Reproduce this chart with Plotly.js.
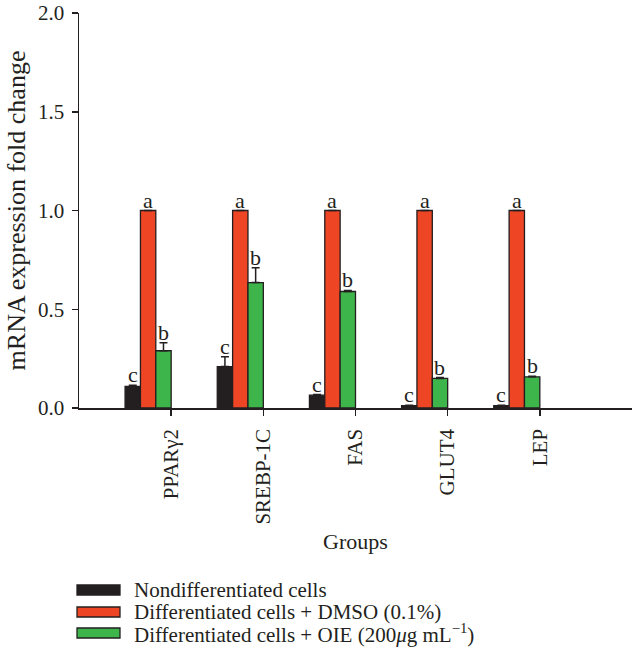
<!DOCTYPE html>
<html>
<head>
<meta charset="utf-8">
<script src="https://cdn.plot.ly/plotly-3.0.1.min.js"></script>
<style>html,body{margin:0;padding:0;background:#fff;}#chart{width:632px;height:664px;}</style>
</head>
<body>
<div id="chart"></div>
<script>
// ---- data ----
const categories = ['PPARγ2', 'SREBP-1C', 'FAS', 'GLUT4', 'LEP'];
const seriesNames = [
  'Nondifferentiated cells',
  'Differentiated cells + DMSO (0.1%)',
  'Differentiated cells + OIE (200<i>μ</i>g mL<sup>−1</sup>)'
];
const nondiff = [0.11, 0.21, 0.065, 0.012, 0.012];
const nondiffErr = [0.005, 0.05, 0.003, 0.002, 0.002];
const dmso = [1.0, 1.0, 1.0, 1.0, 1.0];
const dmsoErr = [0, 0, 0, 0, 0];
const oie = [0.29, 0.635, 0.59, 0.15, 0.158];
const oieErr = [0.04, 0.075, 0.005, 0.004, 0.003];
const nondiffLetters = ['c', 'c', 'c', 'c', 'c'];
const dmsoLetters = ['a', 'a', 'a', 'a', 'a'];
const oieLetters = ['b', 'b', 'b', 'b', 'b'];
const yTicks = [0, 0.5, 1.0, 1.5, 2.0];

// ---- styles ----
const FONT = 'Liberation Serif, Times New Roman, serif';
const INK = '#231f20';
const colors = ['#231f20', '#ee4524', '#3db54a'];
const barW = 1 / 6;
const offsets = [-0.5, -1 / 3, -1 / 6];

const series = [
  {y: nondiff, e: nondiffErr, l: nondiffLetters},
  {y: dmso, e: dmsoErr, l: dmsoLetters},
  {y: oie, e: oieErr, l: oieLetters}
];

const traces = series.map((s, k) => ({
  type: 'bar',
  name: seriesNames[k],
  x: categories,
  y: s.y,
  width: barW,
  offset: offsets[k],
  marker: {color: colors[k], line: {color: INK, width: 1.3}},
  error_y: {
    type: 'data', symmetric: false, array: s.e,
    arrayminus: s.e.map(() => 0),
    visible: true, color: INK, thickness: 1.5, width: 4
  },
  showlegend: false,
  hoverinfo: 'x+y'
}));

const annotations = [];
series.forEach((s, k) => {
  s.y.forEach((v, i) => {
    annotations.push({
      x: i + offsets[k] + barW / 2, xref: 'x',
      y: v + s.e[i], yref: 'y',
      text: s.l[i], showarrow: false,
      yanchor: 'bottom', xanchor: 'center', yshift: -4,
      font: {family: FONT, size: 22, color: INK}
    });
  });
});

// ---- legend (drawn manually to match swatch shape) ----
const L = 79, R = 0, T = 13, B = 256, W = 632, H = 664;
const pw = W - L - R, ph = H - T - B;
const px2x = p => (p - L) / pw;
const px2y = p => (H - B - p) / ph;
const legendRows = [590, 612, 633];
const shapes = [];
seriesNames.forEach((n, k) => {
  const cy = legendRows[k];
  shapes.push({
    type: 'rect', xref: 'paper', yref: 'paper',
    x0: px2x(77), x1: px2x(120), y0: px2y(cy - 5), y1: px2y(cy + 5),
    fillcolor: colors[k], line: {color: INK, width: 1.3}
  });
  annotations.push({
    xref: 'paper', yref: 'paper', x: px2x(133), y: px2y(cy),
    xanchor: 'left', yanchor: 'middle', showarrow: false, borderpad: 0,
    text: n, font: {family: FONT, size: 21, color: INK}
  });
});

const layout = {
  width: W, height: H,
  margin: {l: L, r: R, t: T, b: B, pad: 0},
  paper_bgcolor: '#fff', plot_bgcolor: '#fff',
  font: {family: FONT, size: 22, color: INK},
  barmode: 'overlay',
  showlegend: false,
  xaxis: {
    type: 'category', range: [-1, 5],
    showline: true, linecolor: INK, linewidth: 1.5,
    ticks: 'outside', ticklen: 6, tickwidth: 1.5, tickcolor: INK,
    tickangle: -90, showgrid: false, zeroline: false,
    ticklabelstandoff: 5,
    tickfont: {family: FONT, size: 21, color: INK},
    title: {text: 'Groups', font: {family: FONT, size: 22, color: INK}, standoff: 10}
  },
  yaxis: {
    range: [0, 2], tickvals: yTicks, ticktext: yTicks.map(v => v.toFixed(1)),
    showline: true, linecolor: INK, linewidth: 1.5,
    ticks: 'outside', ticklen: 6, tickwidth: 1.5, tickcolor: INK,
    showgrid: false, zeroline: false,
    ticklabelstandoff: 3, ticklabeloverflow: 'allow',
    tickfont: {family: FONT, size: 21, color: INK},
    title: {text: 'mRNA expression fold change', font: {family: FONT, size: 26, color: INK}, standoff: 5}
  },
  shapes: shapes,
  annotations: annotations
};

Plotly.newPlot('chart', traces, layout, {displayModeBar: false, staticPlot: true});
</script>
</body>
</html>
